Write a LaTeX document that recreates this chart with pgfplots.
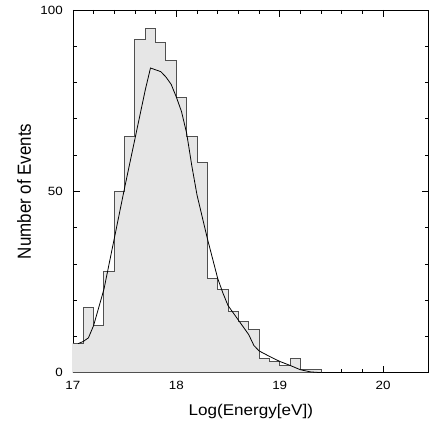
\documentclass[border=0pt]{standalone}
\usepackage{pgfplots}
\pgfplotsset{compat=1.18}
\usepackage{fontspec}
\setmainfont{Liberation Sans}
\definecolor{histfill}{RGB}{230,230,230}
\definecolor{histline}{RGB}{80,80,80}
\newcommand{\tickfont}{\fontsize{12}{14}\selectfont}
\begin{document}
\begin{tikzpicture}
\begin{axis}[
    scale only axis,
    width=356bp, height=363bp,
    xmin=17, xmax=20.44,
    ymin=0, ymax=100,
    xtick={17,18,19,20},
    ytick={0,50,100},
    minor x tick num=4,
    minor y tick num=4,
    tick align=inside,
    major tick length=7bp,
    minor tick length=4bp,
    every tick/.style={black, line width=0.6pt},
    axis line style={black, line width=0.8pt},
    /pgf/number format/assume math mode=true,
    xticklabel={\tickfont\scalebox{1.12}[1]{\pgfmathprintnumber{\tick}}},
    yticklabel={\tickfont\scalebox{1.12}[1]{\pgfmathprintnumber{\tick}}},
    x tick label style={anchor=center, inner sep=0pt, yshift=-13bp},
    y tick label style={anchor=east, inner sep=0pt, xshift=-10bp},
    xlabel={\scalebox{1.1}[1]{Log(Energy[eV])}},
    ylabel={\scalebox{1}[1.12]{Number of Events}},
    xlabel style={font=\fontsize{15.6}{18}\selectfont,
        at={(axis description cs:0.5,-0.1074)}, anchor=center},
    ylabel style={font=\fontsize{17}{20}\selectfont,
        at={(axis description cs:-0.1376,0.5)}, anchor=center},
]
% histogram, bins of width 0.1 (left edges)
\addplot[const plot, fill=histfill, draw=histline, line width=1pt] coordinates {
    (17.0,8) (17.1,18) (17.2,13) (17.3,28) (17.4,50) (17.5,65)
    (17.6,92) (17.7,95) (17.8,91) (17.9,86) (18.0,76) (18.1,65)
    (18.2,58) (18.3,26) (18.4,23) (18.5,17) (18.6,14) (18.7,12)
    (18.8,4) (18.9,3) (19.0,2) (19.1,4) (19.2,1) (19.3,1) (19.4,0)
} \closedcycle;
% fitted curve
\addplot[black, line width=0.8pt] coordinates {
    (17.05,8) (17.1,8.6) (17.15,9.6) (17.2,13) (17.3,23) (17.4,37)
    (17.5,51) (17.6,64.5) (17.7,78) (17.75,84) (17.85,83) (17.9,81.5)
    (17.95,79.5) (18.0,76) (18.05,72) (18.1,66) (18.15,57) (18.2,49)
    (18.3,37) (18.4,26) (18.45,22) (18.5,18.5) (18.6,14.5) (18.7,10.5)
    (18.75,7.5) (18.8,6) (18.9,4.5) (19.0,3.1) (19.1,2) (19.2,0.8)
    (19.3,0.2) (19.4,0) (20.1,0)
};
\end{axis}
\path (current axis.south west) ++(-73bp,-50bp);
\path (current axis.north east) ++(0,10bp);
\end{tikzpicture}
\end{document}
